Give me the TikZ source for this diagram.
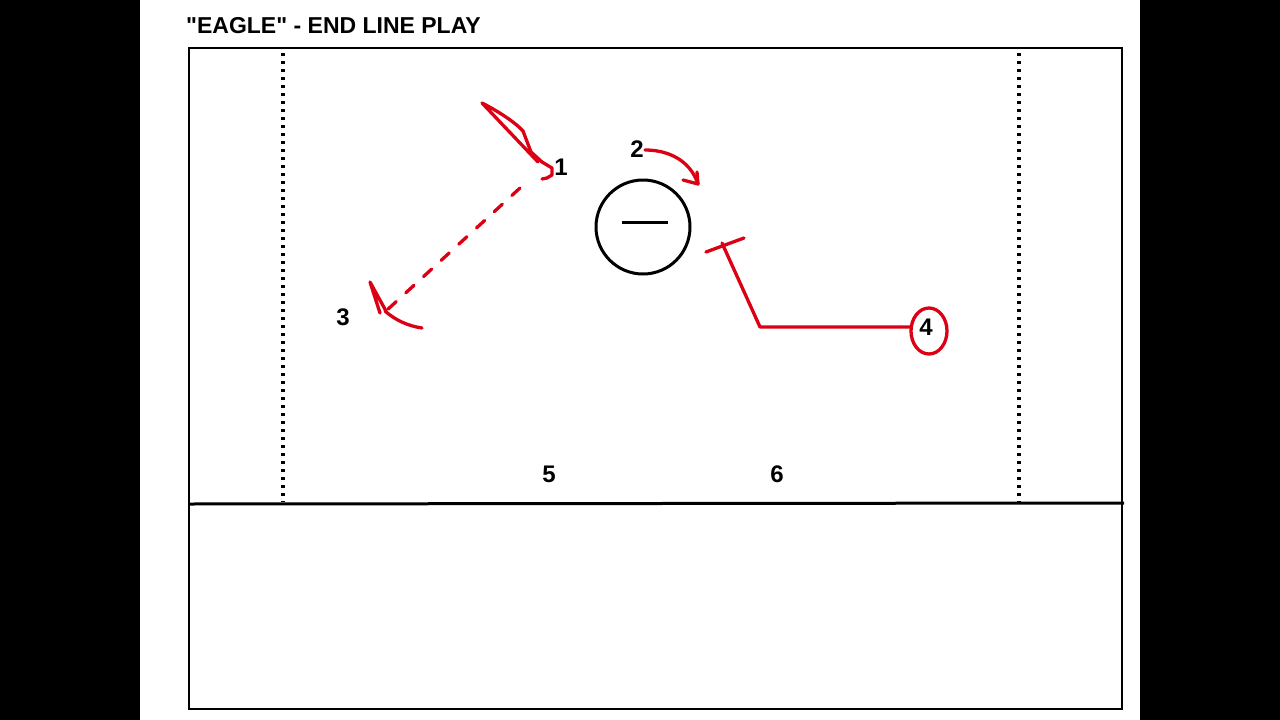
\documentclass[tikz,border=0pt]{standalone}
\usepackage{fontspec}
\setmainfont{Liberation Sans}
\newfontfamily\titlefont{Liberation Sans}
\begin{document}
\begin{tikzpicture}[x=1pt,y=-1pt,
  court/.style={draw=black,line width=2.4pt},
  dotline/.style={line width=3.4pt,dash pattern=on 3.4pt off 4.6pt},
  play/.style={draw={rgb,255:red,220;green,0;blue,20},line width=3.3pt,line cap=round,line join=round},
  num/.style={inner sep=0pt,font=\fontsize{24}{26}\selectfont\bfseries}]
\useasboundingbox (0,0) rectangle (1280,720);
\fill[black] (0,0) rectangle (1280,720);
\fill[white] (140,0) rectangle (1140,720);
% court
\draw[court] (189,48) rectangle (1122,709);
\draw[line width=3pt] (189,504) -- (1124,503);
\draw[dotline] (283,53) -- (283,502);
\draw[dotline] (1019,53) -- (1019,502);
% title
\node[anchor=base west,inner sep=0pt,font=\titlefont\fontsize{23}{26}\selectfont\bfseries] (title) at (186,34) {"EAGLE" - END LINE PLAY};
% defender
\node[draw,circle,minimum size=94pt,line width=3pt,inner sep=0pt] (def) at (643,227) {};
\draw[line width=3pt] (622,222) -- (668,222);
% players
\node[num] (p1) at (561,167) {1};
\node[num] (p2) at (637,149) {2};
\node[num] (p3) at (343,317) {3};
\node[num] (p4) at (926,327) {4};
\node[num] (p5) at (549,474) {5};
\node[num] (p6) at (777,474) {6};
% player 1 cut
\draw[play] (538,162) -- (482,103) .. controls (494,109) and (514,121) .. (523,131) -- (531,152) -- (542,162) -- (552,168) -- (552,175) -- (547,178) -- (542,179);
% pass 1 -> 3
\draw[play,dash pattern=on 11pt off 13pt] (520,188) -- (386,311);
\draw[play] (386,311) -- (370,282) -- (380,313);
\draw[play] (385,311) .. controls (395,320) and (408,326) .. (422,328);
% player 2 move
\draw[play] (645,150) .. controls (668,150) and (690,160) .. (698,184);
\draw[play] (683,180) -- (698,184) -- (697,172);
% player 4 screen
\draw[play] (910,327) -- (760,327) -- (722,243);
\draw[play] (706,252) -- (744,238);
\draw[play] (929,331) ellipse [x radius=18, y radius=23];
\end{tikzpicture}
\end{document}
